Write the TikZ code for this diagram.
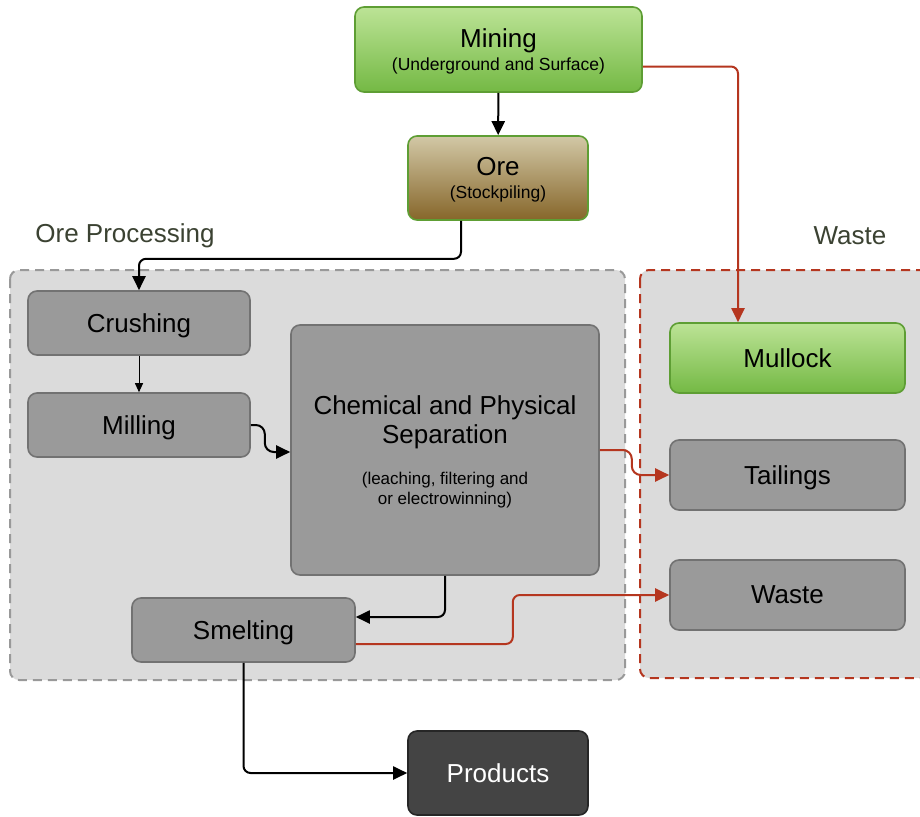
\documentclass[tikz,border=0pt]{standalone}
\usepackage{fontspec}
\setmainfont{Liberation Sans}
\usetikzlibrary{arrows.meta}

\definecolor{boxgray}{HTML}{9A9A9A}
\definecolor{boxline}{HTML}{727272}
\definecolor{areagray}{HTML}{DBDBDB}
\definecolor{greentop}{HTML}{BCE396}
\definecolor{greenbot}{HTML}{74B944}
\definecolor{greenline}{HTML}{5E9E34}
\definecolor{oretop}{HTML}{D2C8A6}
\definecolor{orebot}{HTML}{86662A}
\definecolor{wastered}{HTML}{B5361F}
\definecolor{labelgreen}{HTML}{3B4232}
\definecolor{proddark}{HTML}{444444}

\begin{document}
\begin{tikzpicture}[x=1pt, y=-1pt,
    box/.style={draw=boxline, fill=boxgray, rounded corners=9pt, line width=1.6pt,
        inner sep=0pt, text depth=0pt, align=center, font=\fontsize{26}{29}\selectfont},
    greenbox/.style={box, draw=greenline, top color=greentop, bottom color=greenbot},
    orebox/.style={box, draw=greenline, top color=oretop, bottom color=orebot},
    prodbox/.style={box, draw=black!85, fill=proddark, text=white},
    area/.style={fill=areagray, rounded corners=9pt, line width=2pt, dash pattern=on 9pt off 6pt},
    grouplabel/.style={text=labelgreen, font=\fontsize{26}{28}\selectfont},
    flow/.style={line width=2pt, rounded corners=7pt, -{Triangle[length=14pt, width=13pt]}},
    wasteflow/.style={flow, draw=wastered, -{Triangle[length=14pt, width=13pt, fill=wastered]}}]

\useasboundingbox (0,0) rectangle (920,816);
\fill[white] (0,0) rectangle (920,816);

\draw[area, draw=black!40] (10,270) rectangle (625,680);
\draw[area, draw=wastered] (640,270) rectangle (940,678);

\node[grouplabel] (proclabel) at (125,236) {Ore Processing};
\node[grouplabel] (wastelabel) at (850,236) {Waste};

\node[greenbox, minimum width=287pt, minimum height=85pt] (mining) at (498.5,49.5)
    {\raisebox{-2pt}{Mining}\\[-4pt]{\fontsize{17.5}{19}\selectfont (Underground and Surface)}};
\node[orebox, minimum width=180pt, minimum height=84pt] (ore) at (498,178)
    {\raisebox{-2pt}{Ore}\\[-4pt]{\fontsize{17.5}{19}\selectfont (Stockpiling)}};

\node[box, minimum width=222pt, minimum height=64pt] (crush) at (139,323) {Crushing};
\node[box, minimum width=222pt, minimum height=64pt] (mill) at (139,425) {Milling};
\node[box, minimum width=308pt, minimum height=250pt] (chem) at (445,450)
    {Chemical and Physical\\Separation\\[12pt]
     {\fontsize{17}{16}\selectfont (leaching, filtering and}\\[-9pt]
     {\fontsize{17}{16}\selectfont or electrowinning)}};
\node[box, minimum width=223pt, minimum height=64pt] (smelt) at (243.5,630) {Smelting};
\node[prodbox, minimum width=180pt, minimum height=84pt] (prod) at (498,773) {Products};

\node[greenbox, minimum width=235pt, minimum height=70pt] (mull) at (787.5,358) {Mullock};
\node[box, minimum width=235pt, minimum height=70pt] (tail) at (787.5,475) {Tailings};
\node[box, minimum width=235pt, minimum height=70pt] (waste) at (787.5,595) {Waste};

\draw[flow] (mining) -- (ore);
\draw[flow] ([xshift=-37pt]ore.south) -- ++(0,38) -| (crush.north);
\draw[flow, line width=1pt, -{Triangle[length=9pt, width=8pt]}] (crush) -- (mill);
\draw[flow, rounded corners=9pt] (mill.east) -- ++(14,0) |- ([yshift=-2pt]chem.west);
\draw[flow] (chem.south) |- ([yshift=13pt]smelt.east);
\draw[flow] (smelt.south) |- (prod.west);

\draw[wasteflow] ([yshift=-17pt]mining.east) -| ([xshift=-49.5pt]mull.north);
\draw[wasteflow, rounded corners=9pt] (chem.east) -- ++(32,0) |- (tail.west);
\draw[wasteflow] ([yshift=-14pt]smelt.east) -- ++(157,0) |- (waste.west);

\end{tikzpicture}
\end{document}
